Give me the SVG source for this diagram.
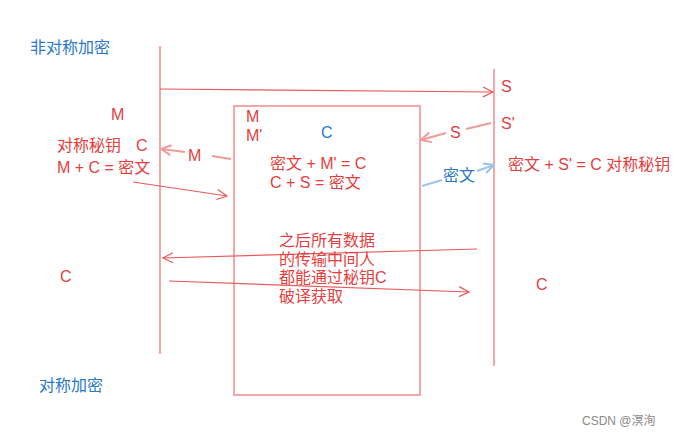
<svg xmlns="http://www.w3.org/2000/svg" width="691" height="436" viewBox="0 0 691 436">
<defs>
<style>
text{font-family:"Liberation Sans","Noto Sans CJK SC",sans-serif;font-size:16px}
.r{fill:#e53e3e}
.b{fill:#2a78c8}
.g{fill:#8a8a8a;font-size:12px}
.vl{stroke:#f08a8a;stroke-width:2;fill:none;stroke-opacity:0.75}
.ar{stroke:#e85a5a;stroke-width:1.2;fill:none}
.pr{stroke:#f29a9a;stroke-width:2;fill:none}
.pb{stroke:#9cc4ea;stroke-width:2;fill:none}
</style>
<marker id="ha" viewBox="0 0 12 12" refX="11" refY="6" markerWidth="12" markerHeight="12" markerUnits="userSpaceOnUse" orient="auto"><path d="M1,1 L11,6 L1,11" fill="none" stroke="#e85a5a" stroke-width="1.2"/></marker>
<marker id="hp" viewBox="0 0 12 12" refX="11" refY="6" markerWidth="12" markerHeight="12" markerUnits="userSpaceOnUse" orient="auto"><path d="M1,1 L11,6 L1,11" fill="none" stroke="#f29a9a" stroke-width="2"/></marker>
<marker id="hb" viewBox="0 0 12 12" refX="11" refY="6" markerWidth="12" markerHeight="12" markerUnits="userSpaceOnUse" orient="auto"><path d="M1,1 L11,6 L1,11" fill="none" stroke="#9cc4ea" stroke-width="2"/></marker>
</defs>
<rect width="691" height="436" fill="#fff"/>
<g id="lifelines">
<line class="vl" x1="160" y1="46" x2="160" y2="354"/>
<line class="vl" x1="494" y1="69" x2="494" y2="366"/>
<rect class="vl" x="234" y="106" width="186" height="289"/>
</g>
<g id="connectors">
<path class="ar" d="M160,89 L493,92" marker-end="url(#ha)"/>
<path class="pr" d="M231,159 L212,156 M185,152 L161,149" marker-end="url(#hp)"/>
<path class="ar" d="M133,182 L227,196" marker-end="url(#ha)"/>
<path class="pr" d="M491,123 L466,129 M446,133 L421,140" marker-end="url(#hp)"/>
<path class="pb" d="M422,186 L442,180 M477,171 L494,165" marker-end="url(#hb)"/>
<path class="ar" d="M477,249 L163,258" marker-end="url(#ha)"/>
<path class="ar" d="M169,281 L469,292" marker-end="url(#ha)"/>
</g>
<g id="labels">
<text class="b" x="30" y="53">非对称加密</text>
<text class="r" x="111" y="120">M</text>
<text class="r" x="57" y="151">对称秘钥</text>
<text class="r" x="136" y="151">C</text>
<text class="r" x="57" y="173">M + C = 密文</text>
<text class="r" x="188" y="161">M</text>
<text class="r" x="246" y="122">M</text>
<text class="r" x="246" y="141">M'</text>
<text class="b" x="321" y="138">C</text>
<text class="r" x="270" y="169">密文 + M' = C</text>
<text class="r" x="270" y="188">C + S = 密文</text>
<text class="r" x="501" y="92">S</text>
<text class="r" x="501" y="129">S'</text>
<text class="r" x="450" y="138">S</text>
<text class="b" x="443" y="181">密文</text>
<text class="r" x="508" y="170">密文 + S' = C 对称秘钥</text>
<text class="r" x="279" y="246">之后所有数据</text>
<text class="r" x="279" y="265">的传输中间人</text>
<text class="r" x="279" y="283">都能通过秘钥C</text>
<text class="r" x="279" y="302">破译获取</text>
<text class="r" x="60" y="282">C</text>
<text class="r" x="536" y="290">C</text>
<text class="b" x="39" y="391">对称加密</text>
<text class="g" x="582" y="425">CSDN @溟洵</text>
</g>
</svg>
